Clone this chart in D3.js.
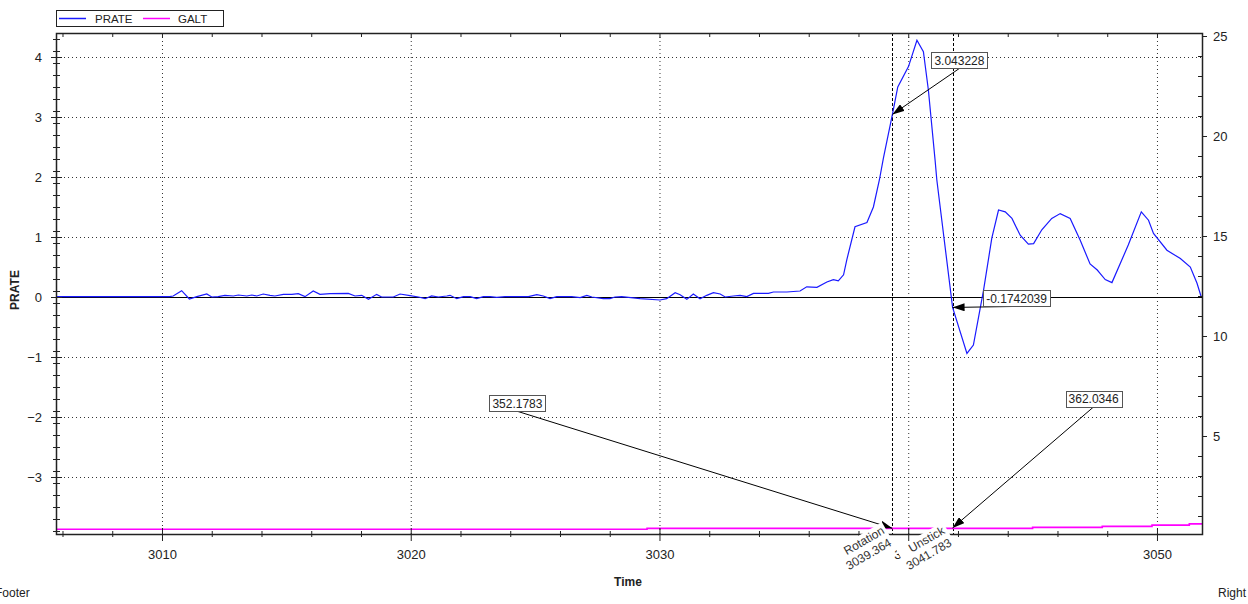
<!DOCTYPE html>
<html><head><meta charset="utf-8">
<script src="https://cdn.jsdelivr.net/npm/d3@7"></script>
<style>
body{margin:0;background:#fff}
svg{display:block}
text{font-family:"Liberation Sans",Arial,sans-serif}
</style>
</head><body>
<svg id="c" width="1248" height="604"></svg>
<script>
// ---------- DATA ----------
const pTime = [3005.74,3010.30,3010.45,3010.79,3011.10,3011.40,3011.80,3012.00,3012.26,3012.53,3012.87,3013.07,3013.41,3013.61,3013.81,3014.07,3014.34,3014.54,3014.88,3015.22,3015.48,3015.75,3016.08,3016.35,3016.76,3017.49,3017.76,3018.03,3018.30,3018.63,3018.83,3019.30,3019.57,3019.97,3020.31,3020.58,3020.84,3021.11,3021.45,3021.58,3021.85,3022.12,3022.39,3022.65,3022.92,3023.19,3023.46,3023.79,3024.26,3024.73,3025.07,3025.33,3025.60,3025.87,3026.47,3026.81,3027.08,3027.28,3027.74,3028.01,3028.21,3028.48,3029.22,3030.02,3030.29,3030.63,3030.83,3031.10,3031.36,3031.63,3031.90,3032.17,3032.44,3032.64,3032.97,3033.24,3033.51,3033.78,3034.38,3034.58,3035.12,3035.65,3035.92,3036.33,3036.73,3036.99,3037.19,3037.40,3037.53,3037.86,3038.34,3038.60,3038.84,3039.00,3039.364,3039.58,3040.01,3040.35,3040.61,3040.81,3041.08,3041.15,3041.783,3042.36,3042.62,3043.03,3043.36,3043.63,3043.90,3044.17,3044.50,3044.83,3045.04,3045.37,3045.77,3046.11,3046.51,3046.91,3047.31,3047.60,3047.72,3047.92,3048.19,3048.85,3049.37,3049.66,3049.86,3050.40,3050.94,3051.34,3051.61,3051.78];
const pVal = [0.005,0.005,0.017,0.105,-0.033,0.006,0.05,0.0,0.006,0.028,0.017,0.033,0.017,0.033,0.017,0.05,0.028,0.017,0.044,0.044,0.056,0.006,0.1,0.044,0.056,0.061,0.017,0.028,-0.039,0.044,0.0,0.0,0.05,0.022,0.0,-0.028,0.017,0.0,0.017,0.028,-0.028,0.006,0.006,-0.028,0.006,0.006,-0.006,0.006,0.006,0.006,0.039,0.017,-0.028,0.006,0.006,-0.011,0.028,0.0,-0.028,-0.028,0.0,0.006,-0.028,-0.05,-0.028,0.072,0.039,-0.039,0.05,-0.028,0.028,0.072,0.05,0.0,0.017,0.028,0.006,0.061,0.061,0.083,0.083,0.1,0.17,0.16,0.25,0.29,0.27,0.37,0.62,1.17,1.24,1.5,1.95,2.31,3.043228,3.5,3.84,4.28,4.09,3.45,2.28,1.95,-0.1742039,-0.94,-0.8,0.12,0.98,1.45,1.42,1.31,1.03,0.88,0.89,1.12,1.31,1.39,1.31,0.95,0.55,0.45,0.39,0.29,0.24,0.87,1.42,1.28,1.06,0.78,0.64,0.5,0.23,0.0];

const gTime = [3005.74,3029.5,3045.0,3047.8,3049.8,3051.3,3051.81];
const gVal  = [330,352,375,400,430,460,460];

const seriesNames = ["PRATE","GALT"];
const xTicks = [3010,3020,3030,3040,3050];
const leftTicks = [-3,-2,-1,0,1,2,3,4];
const rightTicks = [5,10,15,20,25];
const xDomain = [3005.739,3051.81];
const leftDomain = [-3.95,4.4];
const rightDomain = [0.115,25.17];
const galtDomain = [216,12240];

const events = [{name:"Rotation",t:3039.364},{name:"Unstick",t:3041.783}];
const callouts = [
  {label:"3.043228",  series:"PRATE", t:3039.364, v:3.043228},
  {label:"-0.1742039",series:"PRATE", t:3041.783, v:-0.1742039},
  {label:"352.1783",  series:"GALT",  t:3039.364, v:352.1783},
  {label:"362.0346",  series:"GALT",  t:3041.783, v:362.0346}
];
// layout (pixel offsets of callout boxes from their points)
const calloutOffsets = [[67,-54],[64,-9],[-375,-125],[141,-129]];

// ---------- CHART ----------
const svg = d3.select("#c");
const X0=56, X1=1202, Y0=33, Y1=534;
const x  = d3.scaleLinear().domain(xDomain).range([X0,X1]);
const yL = d3.scaleLinear().domain(leftDomain).range([Y1,Y0]);
const yR = d3.scaleLinear().domain(rightDomain).range([Y1,Y0]);
const yG = d3.scaleLinear().domain(galtDomain).range([Y1,Y0]);
const colors = {PRATE:"#1a1aff", GALT:"#ff00ff"};

const defs = svg.append("defs");
defs.append("clipPath").attr("id","plot").append("rect")
  .attr("x",X0).attr("y",Y0).attr("width",X1-X0).attr("height",Y1-Y0);
defs.append("marker").attr("id","ah").attr("markerUnits","userSpaceOnUse")
  .attr("markerWidth",12).attr("markerHeight",8).attr("refX",12).attr("refY",4)
  .attr("orient","auto").append("path").attr("d","M0,0L12,4L0,8Z").attr("fill","#000");

// gridlines
const grid = svg.append("g");
grid.selectAll(".vg").data(xTicks).join("line")
  .attr("x1",d=>x(d)+0.5).attr("x2",d=>x(d)+0.5).attr("y1",Y0).attr("y2",Y1)
  .attr("stroke","#333").attr("stroke-dasharray","1,3");
grid.selectAll(".hg").data(leftTicks.filter(d=>d!==0)).join("line")
  .attr("x1",X0).attr("x2",X1).attr("y1",d=>Math.round(yL(d))+0.5).attr("y2",d=>Math.round(yL(d))+0.5)
  .attr("stroke","#333").attr("stroke-dasharray","1,3");
// zero line
svg.append("line").attr("x1",X0).attr("x2",X1)
  .attr("y1",Math.round(yL(0))+0.5).attr("y2",Math.round(yL(0))+0.5)
  .attr("stroke","#000").attr("stroke-width",1);

// event dashed lines
svg.append("g").selectAll("line").data(events).join("line")
  .attr("x1",d=>Math.round(x(d.t))+0.5).attr("x2",d=>Math.round(x(d.t))+0.5)
  .attr("y1",Y0).attr("y2",Y1).attr("stroke","#000").attr("stroke-dasharray","3,2");

// series
const plot = svg.append("g").attr("clip-path","url(#plot)");
const idxP = d3.range(pTime.length);
plot.append("path").datum(idxP)
  .attr("d",d3.line().x(i=>x(pTime[i])).y(i=>yL(pVal[i])))
  .attr("fill","none").attr("stroke",colors.PRATE).attr("stroke-width",1.2);
const idxG = d3.range(gTime.length);
plot.append("path").datum(idxG)
  .attr("d",d3.line().curve(d3.curveStepAfter).x(i=>x(gTime[i])).y(i=>yG(gVal[i])))
  .attr("fill","none").attr("stroke",colors.GALT).attr("stroke-width",1.6);

// callout arrows
const cpos = callouts.map((c,i)=>{
  const px = x(c.t), py = c.series==="PRATE" ? yL(c.v) : yG(c.v);
  return {c, px, py, bx:px+calloutOffsets[i][0], by:py+calloutOffsets[i][1]};
});
svg.append("g").selectAll("line").data(cpos).join("line")
  .attr("x1",d=>d.bx).attr("y1",d=>d.by+8).attr("x2",d=>d.px).attr("y2",d=>d.py)
  .attr("stroke","#000").attr("stroke-width",1).attr("marker-end","url(#ah)");

// frame
svg.append("rect").attr("x",X0+0.5).attr("y",Y0+0.5).attr("width",X1-X0).attr("height",Y1-Y0)
  .attr("fill","none").attr("stroke","#222").attr("stroke-width",1.5);

// tick marks
const tk = svg.append("g").attr("stroke","#222").attr("stroke-width",1);
const xMinor = d3.range(3006,3052,2).filter(d=>d%10!==0);
tk.selectAll(".xm").data(xTicks).join("line").attr("x1",d=>x(d)+0.5).attr("x2",d=>x(d)+0.5).attr("y1",Y1-6).attr("y2",Y1+7);
tk.selectAll(".xn").data(xMinor).join("line").attr("x1",d=>x(d)+0.5).attr("x2",d=>x(d)+0.5).attr("y1",Y1-3).attr("y2",Y1+3);
tk.selectAll(".xt").data(xTicks).join("line").attr("x1",d=>x(d)+0.5).attr("x2",d=>x(d)+0.5).attr("y1",Y0).attr("y2",Y0+5);
tk.selectAll(".xtn").data(xMinor).join("line").attr("x1",d=>x(d)+0.5).attr("x2",d=>x(d)+0.5).attr("y1",Y0).attr("y2",Y0+4);
const lMinor = d3.range(-39,44,2).map(d=>d/10).filter(d=>Math.abs(d-Math.round(d))>0.01);
tk.selectAll(".lm").data(leftTicks).join("line").attr("x1",X0-5).attr("x2",X0+6).attr("y1",d=>Math.round(yL(d))+0.5).attr("y2",d=>Math.round(yL(d))+0.5);
tk.selectAll(".ln").data(lMinor).join("line").attr("x1",X0-3).attr("x2",X0+4).attr("y1",d=>Math.round(yL(d))+0.5).attr("y2",d=>Math.round(yL(d))+0.5);
const rMinor = d3.range(1,26).filter(d=>d%5!==0);
tk.selectAll(".rm").data(rightTicks).join("line").attr("x1",X1).attr("x2",X1+5).attr("y1",d=>Math.round(yR(d))+0.5).attr("y2",d=>Math.round(yR(d))+0.5);
tk.selectAll(".rn").data(rMinor).join("line").attr("x1",X1-4).attr("x2",X1).attr("y1",d=>Math.round(yR(d))+0.5).attr("y2",d=>Math.round(yR(d))+0.5);

// axis labels via d3 axes
function styleAxis(g){ g.select(".domain").remove(); g.selectAll("line").remove();
  g.selectAll("text").attr("fill","#222").style("font-size","13px").style("font-family","'Liberation Sans',Arial,sans-serif"); }
svg.append("g").attr("transform",`translate(0,${Y1})`)
  .call(d3.axisBottom(x).tickValues(xTicks).tickSize(0).tickPadding(16).tickFormat(d3.format("d"))).call(styleAxis);
svg.append("g").attr("transform",`translate(${X0},0)`)
  .call(d3.axisLeft(yL).tickValues(leftTicks).tickSize(0).tickPadding(14).tickFormat(d3.format("d"))).call(styleAxis);
svg.append("g").attr("transform",`translate(${X1},0)`)
  .call(d3.axisRight(yR).tickValues(rightTicks).tickSize(0).tickPadding(11).tickFormat(d3.format("d"))).call(styleAxis);

// event labels (rotated, white background)
events.forEach(e=>{
  const g = svg.append("g").attr("transform",`translate(${x(e.t)-7},533) rotate(-30)`);
  g.append("text").attr("text-anchor","end").attr("y",0).text(e.name);
  g.append("text").attr("text-anchor","end").attr("y",14).text(d3.format(".3f")(e.t));
  g.selectAll("text").attr("fill","#333").style("font-size","12px");
  const bb = g.node().getBBox();
  g.insert("rect","text").attr("x",bb.x-1).attr("y",bb.y).attr("width",bb.width+3).attr("height",bb.height+1).attr("fill","#fff");
});

// callout boxes
cpos.forEach(d=>{
  const g = svg.append("g");
  const t = g.append("text").attr("x",d.bx).attr("y",d.by+4.5).attr("text-anchor","middle")
    .attr("fill","#222").style("font-size","12px").text(d.c.label);
  const w = t.node().getComputedTextLength()+6;
  g.insert("rect","text").attr("x",Math.round(d.bx-w/2)+0.5).attr("y",Math.round(d.by-8)+0.5)
    .attr("width",Math.round(w)).attr("height",16).attr("fill","#fff").attr("stroke","#555").attr("stroke-width",1);
});

// legend
const lg = svg.append("g");
lg.append("rect").attr("x",56.5).attr("y",10.5).attr("width",167).attr("height",16).attr("fill","#fff").attr("stroke","#222");
const legendX = [[59,86,95],[143,170,178]];
seriesNames.forEach((s,i)=>{
  lg.append("line").attr("x1",legendX[i][0]).attr("x2",legendX[i][1]).attr("y1",18.5).attr("y2",18.5)
    .attr("stroke",colors[s]).attr("stroke-width",1.5);
  lg.append("text").attr("x",legendX[i][2]).attr("y",22.5).attr("fill","#222").style("font-size","11.5px").text(s);
});

// titles
svg.append("text").attr("transform","translate(19,290) rotate(-90)").attr("text-anchor","middle")
  .style("font-weight","bold").style("font-size","12px").attr("fill","#222").text("PRATE");
svg.append("text").attr("x",628).attr("y",586).attr("text-anchor","middle")
  .style("font-weight","bold").style("font-size","12px").attr("fill","#222").text("Time");
svg.append("text").attr("x",-5).attr("y",597).style("font-size","12px").attr("fill","#222").text("Footer");
svg.append("text").attr("x",1218).attr("y",597).style("font-size","12px").attr("fill","#222").text("Right");
</script>
</body></html>
